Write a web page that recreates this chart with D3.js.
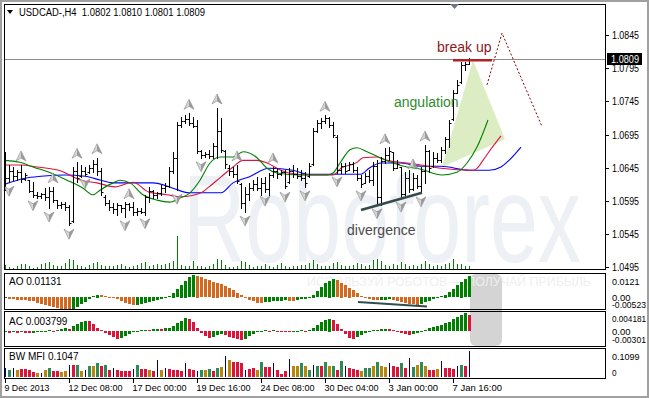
<!DOCTYPE html>
<html>
<head>
<meta charset="utf-8">
<script src="https://cdn.jsdelivr.net/npm/d3@7"></script>
<style>
    body { margin: 0; background: #fff; }
    svg { display: block; font-family: "Liberation Sans", Arial, sans-serif; }
</style>
</head>
<body>
<svg id="chart" width="649" height="398"></svg>
<script>
// USDCAD H4 bars, first bar = 9 Dec 2013 16:00
var opens = [1.0655,1.0630,1.0640,1.0632,1.0638,1.0628,1.0626,1.0610,1.0604,1.0602,1.0605,1.0600,1.0610,1.0596,1.0588,1.0590,1.0585,1.0564,1.0640,1.0632,
    1.0640,1.0638,1.0645,1.0650,1.0640,1.0600,1.0592,1.0586,1.0582,1.0588,1.0584,1.0590,1.0586,1.0578,1.0580,1.0578,1.0600,1.0610,1.0604,1.0606,
    1.0615,1.0618,1.0640,1.0660,1.0710,1.0715,1.0718,1.0712,1.0708,1.0670,1.0664,1.0666,1.0662,1.0678,1.0700,1.0670,1.0645,1.0640,1.0636,1.0620,
    1.0592,1.0605,1.0615,1.0620,1.0614,1.0622,1.0612,1.0634,1.0640,1.0635,1.0638,1.0624,1.0640,1.0636,1.0632,1.0630,1.0632,1.0650,1.0700,1.0712,
    1.0716,1.0720,1.0710,1.0692,1.0642,1.0648,1.0641,1.0650,1.0642,1.0630,1.0622,1.0632,1.0626,1.0648,1.0600,1.0655,1.0664,1.0668,1.0645,1.0646,
    1.0605,1.0630,1.0612,1.0630,1.0618,1.0640,1.0670,1.0647,1.0660,1.0656,1.0672,1.0688,1.0718,1.0758,1.0775,1.0800,1.0802];
var highs = [1.0669,1.0649,1.0646,1.0641,1.0649,1.0637,1.0626,1.0623,1.0608,1.0607,1.0614,1.0616,1.0616,1.0596,1.0593,1.0593,1.0589,1.0646,1.0653,1.0649,
    1.0646,1.0649,1.0656,1.0660,1.0644,1.0604,1.0596,1.0592,1.0592,1.0589,1.0593,1.0592,1.0593,1.0584,1.0584,1.0604,1.0616,1.0611,1.0608,1.0619,
    1.0622,1.0646,1.0669,1.0714,1.0721,1.0724,1.0727,1.0721,1.0717,1.0672,1.0669,1.0672,1.0682,1.0735,1.0720,1.0672,1.0649,1.0646,1.0649,1.0622,
    1.0616,1.0622,1.0626,1.0631,1.0629,1.0631,1.0637,1.0646,1.0644,1.0641,1.0641,1.0644,1.0649,1.0644,1.0641,1.0638,1.0652,1.0705,1.0717,1.0720,
    1.0724,1.0721,1.0714,1.0694,1.0652,1.0652,1.0653,1.0653,1.0646,1.0634,1.0637,1.0641,1.0653,1.0656,1.0661,1.0675,1.0676,1.0669,1.0656,1.0646,
    1.0638,1.0641,1.0637,1.0634,1.0646,1.0679,1.0672,1.0669,1.0667,1.0676,1.0691,1.0717,1.0762,1.0777,1.0804,1.0804,1.0810];
var lows = [1.0611,1.0623,1.0626,1.0626,1.0623,1.0626,1.0608,1.0601,1.0599,1.0599,1.0596,1.0584,1.0593,1.0584,1.0584,1.0581,1.0558,1.0563,1.0623,1.0631,
    1.0634,1.0637,1.0638,1.0634,1.0604,1.0589,1.0581,1.0577,1.0574,1.0578,1.0571,1.0581,1.0574,1.0574,1.0577,1.0574,1.0593,1.0599,1.0599,1.0604,
    1.0608,1.0616,1.0637,1.0611,1.0706,1.0712,1.0709,1.0706,1.0667,1.0660,1.0661,1.0660,1.0660,1.0660,1.0669,1.0644,1.0634,1.0631,1.0622,1.0584,
    1.0578,1.0596,1.0611,1.0611,1.0604,1.0608,1.0604,1.0631,1.0629,1.0634,1.0614,1.0622,1.0631,1.0629,1.0626,1.0616,1.0631,1.0649,1.0699,1.0705,
    1.0712,1.0706,1.0691,1.0637,1.0637,1.0637,1.0641,1.0638,1.0626,1.0616,1.0622,1.0623,1.0619,1.0589,1.0589,1.0652,1.0656,1.0641,1.0644,1.0599,
    1.0604,1.0608,1.0611,1.0614,1.0607,1.0622,1.0638,1.0646,1.0653,1.0653,1.0667,1.0676,1.0717,1.0758,1.0773,1.0792,1.0801];
var closes = [1.0630,1.0640,1.0632,1.0638,1.0628,1.0634,1.0610,1.0604,1.0602,1.0605,1.0600,1.0610,1.0596,1.0588,1.0590,1.0585,1.0562,1.0640,1.0630,1.0640,
    1.0636,1.0645,1.0650,1.0640,1.0608,1.0592,1.0586,1.0582,1.0588,1.0584,1.0590,1.0586,1.0578,1.0580,1.0578,1.0600,1.0610,1.0604,1.0606,1.0615,
    1.0618,1.0640,1.0660,1.0710,1.0715,1.0718,1.0712,1.0708,1.0670,1.0664,1.0666,1.0662,1.0678,1.0700,1.0672,1.0650,1.0640,1.0636,1.0625,1.0592,
    1.0605,1.0615,1.0620,1.0614,1.0622,1.0612,1.0634,1.0640,1.0635,1.0638,1.0618,1.0640,1.0636,1.0632,1.0630,1.0622,1.0648,1.0700,1.0712,1.0716,
    1.0720,1.0710,1.0695,1.0642,1.0648,1.0640,1.0650,1.0642,1.0630,1.0620,1.0632,1.0626,1.0648,1.0600,1.0655,1.0664,1.0670,1.0645,1.0650,1.0605,
    1.0630,1.0612,1.0630,1.0618,1.0640,1.0670,1.0645,1.0660,1.0656,1.0672,1.0688,1.0712,1.0758,1.0770,1.0800,1.0802,1.0809];
// tick volume
var volumes = [400,200,100,300,500,500,300,100,200,500,600,700,400,300,300,600,1000,900,400,300,
    200,400,600,700,400,300,300,300,400,500,300,200,300,400,600,700,300,400,500,400,
    500,600,800,3300,400,300,300,800,300,300,200,300,500,1000,900,400,200,200,300,800,
    700,400,200,300,300,500,300,200,400,600,300,200,300,300,400,400,600,900,500,300,
    300,300,600,700,400,300,300,400,600,500,300,400,900,1000,800,400,300,500,400,700,
    500,300,400,300,500,800,500,300,400,300,500,600,1000,500,500,300,300];

// Alligator lines (bar position, price); lines run past the last bar
var jawAt = [0,5,9,15,20,24,27,32,37,42,46,54,57,61,66,72,76,82,89,91,94,99,104,109,116,121,124,126,129];
var jaw = [1.0620,1.0629,1.0632,1.0634,1.0632,1.0626,1.0622,1.0622,1.0622,1.0614,1.0607,1.0607,1.0622,1.0631,1.0644,1.0641,1.0635,1.0635,1.0635,1.0644,
    1.0652,1.0652,1.0647,1.0647,1.0641,1.0641,1.0646,1.0656,1.0676];
var teethAt = [0,4,8,14,19,23,27.5,32,36,40.5,44,49,51,54,57,59.5,63,65.5,69,71,76,82,84,88,89.5,93,95.5,100.5,107,109,117,118,119.5,121,124];
var teeth = [1.0649,1.0649,1.0646,1.0640,1.0626,1.0622,1.0616,1.0623,1.0608,1.0604,1.0601,1.0607,1.0616,1.0631,1.0646,1.0656,1.0656,1.0652,1.0641,1.0637,
    1.0634,1.0634,1.0644,1.0653,1.0660,1.0661,1.0656,1.0652,1.0646,1.0644,1.0641,1.0644,1.0656,1.0669,1.0693];
var lipsAt = [0,3.75,7,11,15.5,19.5,22,23.75,27,28.75,31.25,34.5,38,41.25,43.75,46.25,48.75,51.25,53.75,57,59.5,63,65.5,68,73.75,80.5,82,83.75,86.25,88,
    90.5,93.75,97,100.5,103.75,109.25,113,115.5,118,120.75];
var lips = [1.0656,1.0653,1.0646,1.0638,1.0626,1.0614,1.0604,1.0611,1.0622,1.0626,1.0622,1.0604,1.0596,1.0593,1.0599,1.0607,1.0626,1.0652,1.0661,1.0661,
    1.0669,1.0660,1.0644,1.0637,1.0634,1.0634,1.0637,1.0652,1.0672,1.0675,1.0669,1.0660,1.0652,1.0646,1.0643,1.0634,1.0638,1.0652,1.0676,1.0717];

// fractals (bar positions)
var fractalUp = [4,12,18,23,31,46,53,58,67,80,95,102,105];
var fractalDown = [1,7,11,16,20,30,35,43,49,60,65,70,75,83,89,93,99,104];

// Awesome / Accelerator oscillators
var ao = [-0.0008,-0.0010,-0.0012,-0.0014,-0.0015,-0.0017,-0.0020,-0.0024,-0.0030,-0.0036,-0.0042,-0.0048,-0.0055,-0.0060,-0.0064,-0.0068,-0.0070,-0.0066,-0.0055,-0.0040,
    -0.0025,-0.0010,0.0008,0.0015,0.0012,0.0006,0.0002,-0.0004,-0.0012,-0.0020,-0.0030,-0.0040,-0.0044,-0.0042,-0.0038,-0.0032,-0.0026,-0.0020,-0.0015,-0.0010,
    -0.0004,0.0008,0.0025,0.0045,0.0068,0.0090,0.0108,0.0121,0.0118,0.0110,0.0100,0.0092,0.0085,0.0080,0.0072,0.0062,0.0050,0.0038,0.0025,0.0010,
    -0.0005,-0.0015,-0.0024,-0.0030,-0.0032,-0.0028,-0.0026,-0.0024,-0.0022,-0.0020,-0.0018,-0.0019,-0.0021,-0.0017,-0.0012,-0.0010,-0.0003,0.0015,0.0035,0.0055,
    0.0075,0.0090,0.0098,0.0092,0.0080,0.0066,0.0052,0.0038,0.0022,0.0008,-0.0004,-0.0012,-0.0016,-0.0018,-0.0016,-0.0014,-0.0012,-0.0014,-0.0020,-0.0026,
    -0.0032,-0.0036,-0.0040,-0.0042,-0.0036,-0.0028,-0.0020,-0.0012,-0.0004,0.0005,0.0015,0.0028,0.0045,0.0065,0.0085,0.0100,0.01131];
var ac = [-0.0003,-0.0004,-0.0003,-0.0004,-0.0003,-0.0004,-0.0005,-0.0004,-0.0003,-0.0002,0.0001,0.0002,0.0001,0.0002,0.0004,0.0006,0.0005,0.0012,0.0017,0.0021,
    0.0024,0.0023,0.0016,0.0008,0.0002,-0.0004,-0.0009,-0.0014,-0.0018,-0.0016,-0.0011,-0.0006,-0.0002,0.0000,0.0002,0.0003,0.0003,0.0004,0.0005,0.0005,
    0.0006,0.0008,0.0012,0.0018,0.0024,0.0030,0.0028,0.0020,0.0008,-0.0004,-0.0012,-0.0016,-0.0014,-0.0010,-0.0008,-0.0010,-0.0013,-0.0016,-0.0019,-0.0021,
    -0.0018,-0.0012,-0.0006,-0.0002,0.0001,0.0002,0.0001,0.0002,0.0001,0.0000,-0.0001,-0.0002,-0.0001,0.0001,0.0002,0.0001,0.0003,0.0008,0.0014,0.0020,
    0.0026,0.0029,0.0025,0.0016,0.0004,-0.0008,-0.0016,-0.0019,-0.0015,-0.0009,-0.0004,0.0000,0.0002,0.0003,0.0004,0.0005,0.0004,0.0003,0.0001,-0.0004,
    -0.0008,-0.0009,-0.0007,-0.0005,-0.0002,0.0002,0.0006,0.0009,0.0012,0.0015,0.0018,0.0022,0.0027,0.0032,0.0037,0.004181,0.003799];

// BW market facilitation index and its colour class per bar
var mfi = [0.037,0.028,0.037,0.028,0.033,0.033,0.028,0.020,0.016,0.016,0.028,0.037,0.024,0.024,0.020,0.024,0.049,0.049,0.049,0.024,
    0.028,0.045,0.045,0.057,0.045,0.049,0.028,0.037,0.028,0.024,0.024,0.024,0.033,0.049,0.033,0.033,0.028,0.024,0.069,0.028,
    0.037,0.033,0.028,0.028,0.024,0.057,0.033,0.028,0.024,0.028,0.028,0.033,0.024,0.037,0.041,0.085,0.069,0.061,0.061,0.057,
    0.028,0.033,0.037,0.028,0.061,0.041,0.041,0.057,0.028,0.012,0.024,0.073,0.045,0.045,0.057,0.045,0.028,0.049,0.045,0.045,
    0.061,0.045,0.045,0.028,0.065,0.045,0.037,0.033,0.028,0.024,0.037,0.037,0.045,0.061,0.045,0.041,0.057,0.045,0.041,0.057,
    0.037,0.077,0.041,0.049,0.061,0.045,0.028,0.028,0.033,0.065,0.037,0.037,0.033,0.045,0.049,0.045,0.1047];
var mfiType = "bgbyrrrrybygrryybrgybgygrgrbrrrrbgrryrbybrrrrbrrbgygrgybyrrrbrrygrrbrrrbyygygbgrgygrgbrrryggygyybrrgrbgygyrrybrrrbgrb";

var timeAt = [0,16,32,48,64,80,96,112];
var timeLabels = ["9 Dec 2013","12 Dec 08:00","17 Dec 00:00","19 Dec 16:00","24 Dec 08:00","30 Dec 04:00","3 Jan 00:00","7 Jan 16:00"];
var priceTicks = [1.0845,1.0795,1.0745,1.0695,1.0645,1.0595,1.0545,1.0495];

// drawn objects
var fanAt = [109.25,117,125], fanPrice = [1.0646,1.0807,1.0688];
var forecastAt = [120.5,124.25,134.25], forecastPrice = [1.0770,1.0848,1.0707];
var breakAt = [112,121.75], breakPrice = 1.0807;
var divAt = [89,104.25], divPrice = [1.0581,1.0607];
var aoDivAt = [88.25,105.5], aoDiv = [-0.0025,-0.0050];
var lastPrice = 1.0809;

var svg = d3.select("#chart");
var left = 4, right = 605;
var mainP = {top: 4, bottom: 269}, aoP = {top: 273, bottom: 309}, acP = {top: 311, bottom: 346}, mfiP = {top: 348, bottom: 378};

var x = d3.scaleLinear().domain([0, 116]).range([5, 469]);
var y = d3.scaleLinear().domain([1.0492, 1.0892]).range([mainP.bottom, mainP.top]);
var yVol = d3.scaleLinear().domain([0, 3400]).range([mainP.bottom, mainP.bottom - 34]);
var yAo = d3.scaleLinear().domain([-0.00523, 0.0121]).range([307, 275]);
var yAc = d3.scaleLinear().domain([-0.00301, 0.004181]).range([344, 313]);
var yMfi = d3.scaleLinear().domain([0, 0.1099]).range([377, 350]);

// window border
svg.append("rect").attr("x", 1).attr("y", 1).attr("width", 647).attr("height", 396)
    .attr("fill", "#fff").attr("stroke", "#a0a0a0").attr("stroke-width", 2);

function panel(p, id) {
    svg.append("clipPath").attr("id", id).append("rect")
        .attr("x", left + 1).attr("y", p.top + 1).attr("width", right - left - 1).attr("height", p.bottom - p.top - 1);
    return svg.append("g").attr("clip-path", "url(#" + id + ")");
}

var main = panel(mainP, "clipMain");

// watermark
main.append("text").attr("x", 183).attr("y", 262)
    .attr("font-size", 125).attr("fill", "#edf0f4")
    .attr("textLength", 398).attr("lengthAdjust", "spacingAndGlyphs")
    .text("Roboforex");

// angulation fan
main.append("polygon")
    .attr("points", fanAt.map(function (d, i) { return x(d) + "," + y(fanPrice[i]); }).join(" "))
    .attr("fill", "#dcedc4");

// volumes
main.selectAll(".vol").data(volumes).enter().append("line")
    .attr("x1", function (d, i) { return x(i) + 0.5; })
    .attr("x2", function (d, i) { return x(i) + 0.5; })
    .attr("y1", mainP.bottom).attr("y2", function (d) { return yVol(d); })
    .attr("stroke", "#008000").attr("stroke-width", 1);

// current price line
main.append("line").attr("x1", left).attr("x2", right)
    .attr("y1", Math.round(y(lastPrice)) + 0.5).attr("y2", Math.round(y(lastPrice)) + 0.5)
    .attr("stroke", "#8c8c8c");

// alligator
function lineOf(at, vals, color) {
    var pts = at.map(function (d, i) { return [x(d), y(vals[i])]; });
    main.append("path").attr("d", d3.line().curve(d3.curveMonotoneX)(pts))
        .attr("fill", "none").attr("stroke", color).attr("stroke-width", 1.1);
}
lineOf(jawAt, jaw, "#0000ff");
lineOf(teethAt, teeth, "#dc143c");
lineOf(lipsAt, lips, "#008000");

// OHLC bars
main.selectAll(".bar").data(highs).enter().append("path")
    .attr("d", function (d, i) {
        var cx = Math.round(x(i)) + 0.5;
        var yo = Math.round(y(opens[i])) + 0.5, yc = Math.round(y(closes[i])) + 0.5;
        return "M" + cx + "," + Math.round(y(d)) + "V" + (Math.round(y(lows[i])) + 1) +
            "M" + (cx - 2) + "," + yo + "H" + cx + "M" + cx + "," + yc + "H" + (cx + 2);
    })
    .attr("stroke", "#000").attr("fill", "none");

// fractal arrows
function arrow(g, cx, cy, up) {
    var s = up ? 1 : -1;
    var a = g.append("g").attr("transform", "translate(" + cx + "," + cy + ") scale(1," + s + ")");
    a.append("path").attr("d", "M0,-5L-5,5L0,2Z").attr("fill", "#d6d6d6");
    a.append("path").attr("d", "M0,-5L5,5L0,2Z").attr("fill", "#9c9c9c");
    a.append("path").attr("d", "M0,-5L5,5L0,2L-5,5Z").attr("fill", "none").attr("stroke", "#8a8a8a").attr("stroke-width", 0.6);
}
fractalUp.forEach(function (i) { arrow(main, x(i), y(highs[i]) - 9, true); });
fractalDown.forEach(function (i) { arrow(main, x(i), y(lows[i]) + 9, false); });

// break up + forecast
main.append("line").attr("x1", x(breakAt[0])).attr("x2", x(breakAt[1]))
    .attr("y1", y(breakPrice)).attr("y2", y(breakPrice))
    .attr("stroke", "#b22222").attr("stroke-width", 2.5);
main.append("path")
    .attr("d", d3.line()(forecastAt.map(function (d, i) { return [x(d), y(forecastPrice[i])]; })))
    .attr("fill", "none").attr("stroke", "#8b0000").attr("stroke-dasharray", "2,2");
main.append("line").attr("x1", x(divAt[0])).attr("x2", x(divAt[1]))
    .attr("y1", y(divPrice[0])).attr("y2", y(divPrice[1]))
    .attr("stroke", "#354a4a").attr("stroke-width", 2.5);

main.append("text").attr("x", 437).attr("y", 52).attr("font-size", 14).attr("fill", "#8b1a1a").text("break up");
main.append("text").attr("x", 394).attr("y", 107).attr("font-size", 14).attr("fill", "#2e8b2e").text("angulation");
main.append("text").attr("x", 347).attr("y", 235).attr("font-size", 14).attr("fill", "#4a4a4a").text("divergence");

// sub windows
var aoG = panel(aoP, "clipAo");
var acG = panel(acP, "clipAc");
var mfiG = panel(mfiP, "clipMfi");

// shift marker block behind oscillators
svg.insert("rect", "g").attr("x", 470).attr("y", 274).attr("width", 32).attr("height", 72)
    .attr("rx", 6).attr("fill", "#d4d4d4");

aoG.append("text").attr("x", 307).attr("y", 286).attr("font-size", 13).attr("fill", "#efefef")
    .attr("textLength", 284).attr("lengthAdjust", "spacingAndGlyphs")
    .text("ИСПОЛЬЗУЙ РОБОТОВ — ПОЛУЧАЙ ПРИБЫЛЬ");

function histogram(g, vals, scale, up, down) {
    g.selectAll(".h").data(vals).enter().append("rect")
        .attr("x", function (d, i) { return Math.round(x(i)) - 1; })
        .attr("width", 3)
        .attr("y", function (d) { return Math.round(Math.min(scale(d), scale(0))); })
        .attr("height", function (d) { return Math.max(1, Math.round(Math.abs(scale(d) - scale(0)))); })
        .attr("fill", function (d, i) { return (i === 0 || d > vals[i - 1]) ? up : down; });
}
histogram(aoG, ao, yAo, "#008000", "#d2691e");
histogram(acG, ac, yAc, "#008000", "#dc143c");

aoG.append("path")
    .attr("d", d3.line()(aoDivAt.map(function (d, i) { return [x(d), yAo(aoDiv[i])]; })))
    .attr("stroke", "#2f4f4f").attr("stroke-width", 2);

var mfiColor = {g: "#2e8b57", r: "#dc143c", y: "#b8860b", b: "#000080"};
mfiG.selectAll(".m").data(mfi).enter().append("rect")
    .attr("x", function (d, i) { return Math.round(x(i)) - (mfiType[i] === "b" ? 0 : 1); })
    .attr("width", function (d, i) { return mfiType[i] === "b" ? 1 : 3; })
    .attr("y", function (d) { return Math.round(yMfi(d)); })
    .attr("height", function (d) { return yMfi(0) - Math.round(yMfi(d)); })
    .attr("fill", function (d, i) { return mfiColor[mfiType[i]]; });

// frames
[mainP, aoP, acP, mfiP].forEach(function (p) {
    svg.append("rect").attr("x", left + 0.5).attr("y", p.top + 0.5)
        .attr("width", right - left).attr("height", p.bottom - p.top)
        .attr("fill", "none").attr("stroke", "#000");
});

// panel captions
svg.append("path").attr("d", "M7,10H13L10,14Z").attr("fill", "#000");
svg.append("text").attr("x", 19).attr("y", 16).attr("font-size", 10).attr("fill", "#000")
    .attr("textLength", 186).attr("lengthAdjust", "spacingAndGlyphs")
    .attr("xml:space", "preserve").text("USDCAD-,H4  1.0802 1.0810 1.0801 1.0809");
svg.append("text").attr("x", 9).attr("y", 285).attr("font-size", 10).text("AO 0.01131");
svg.append("text").attr("x", 9).attr("y", 325).attr("font-size", 10).text("AC 0.003799");
svg.append("text").attr("x", 9).attr("y", 360).attr("font-size", 10).text("BW MFI 0.1047");

// chart shift marker
svg.append("path").attr("d", "M450,4H459L454.5,9Z").attr("fill", "#6e7680");

// price axis
var axisG = svg.append("g").attr("font-size", 10).attr("fill", "#000");
priceTicks.forEach(function (v) {
    var ty = Math.round(y(v)) + 0.5;
    axisG.append("line").attr("x1", right).attr("x2", right + 4).attr("y1", ty).attr("y2", ty).attr("stroke", "#000");
    axisG.append("text").attr("x", 612).attr("y", ty + 3.5).attr("textLength", 27).attr("lengthAdjust", "spacingAndGlyphs").text(v.toFixed(4));
});
var ly = Math.round(y(lastPrice));
axisG.append("rect").attr("x", 607).attr("y", ly - 6).attr("width", 35).attr("height", 12).attr("fill", "#000");
axisG.append("text").attr("x", 611).attr("y", ly + 4).attr("fill", "#fff")
    .attr("textLength", 28).attr("lengthAdjust", "spacingAndGlyphs").text(lastPrice.toFixed(4));

function subLabels(scale, vals, texts, offs) {
    vals.forEach(function (v, i) {
        axisG.append("text").attr("x", 612).attr("y", scale(v) + offs[i] + 3.5)
            .attr("font-size", 9.5).attr("textLength", Math.min(34, texts[i].length * 4.6))
            .attr("lengthAdjust", "spacingAndGlyphs").text(texts[i]);
    });
}
subLabels(yAo, [0.0121, 0, -0.00523], ["0.0121", "0.00", "-0.00523"], [6, 0, -3]);
subLabels(yAc, [0.004181, 0, -0.00301], ["0.004181", "0.00", "-0.00301"], [5, 0, -5]);
subLabels(yMfi, [0.1099, 0], ["0.1099", "0"], [6, -5]);

// time axis
timeAt.forEach(function (i, k) {
    var tx = Math.round(x(i)) + 0.5;
    axisG.append("line").attr("x1", tx).attr("x2", tx).attr("y1", mfiP.bottom).attr("y2", mfiP.bottom + 5).attr("stroke", "#000");
    axisG.append("text").attr("x", tx - 1).attr("y", 391).attr("font-size", 9.5)
        .attr("textLength", timeLabels[k].length * 4.5).attr("lengthAdjust", "spacingAndGlyphs").text(timeLabels[k]);
});
</script>
</body>
</html>
